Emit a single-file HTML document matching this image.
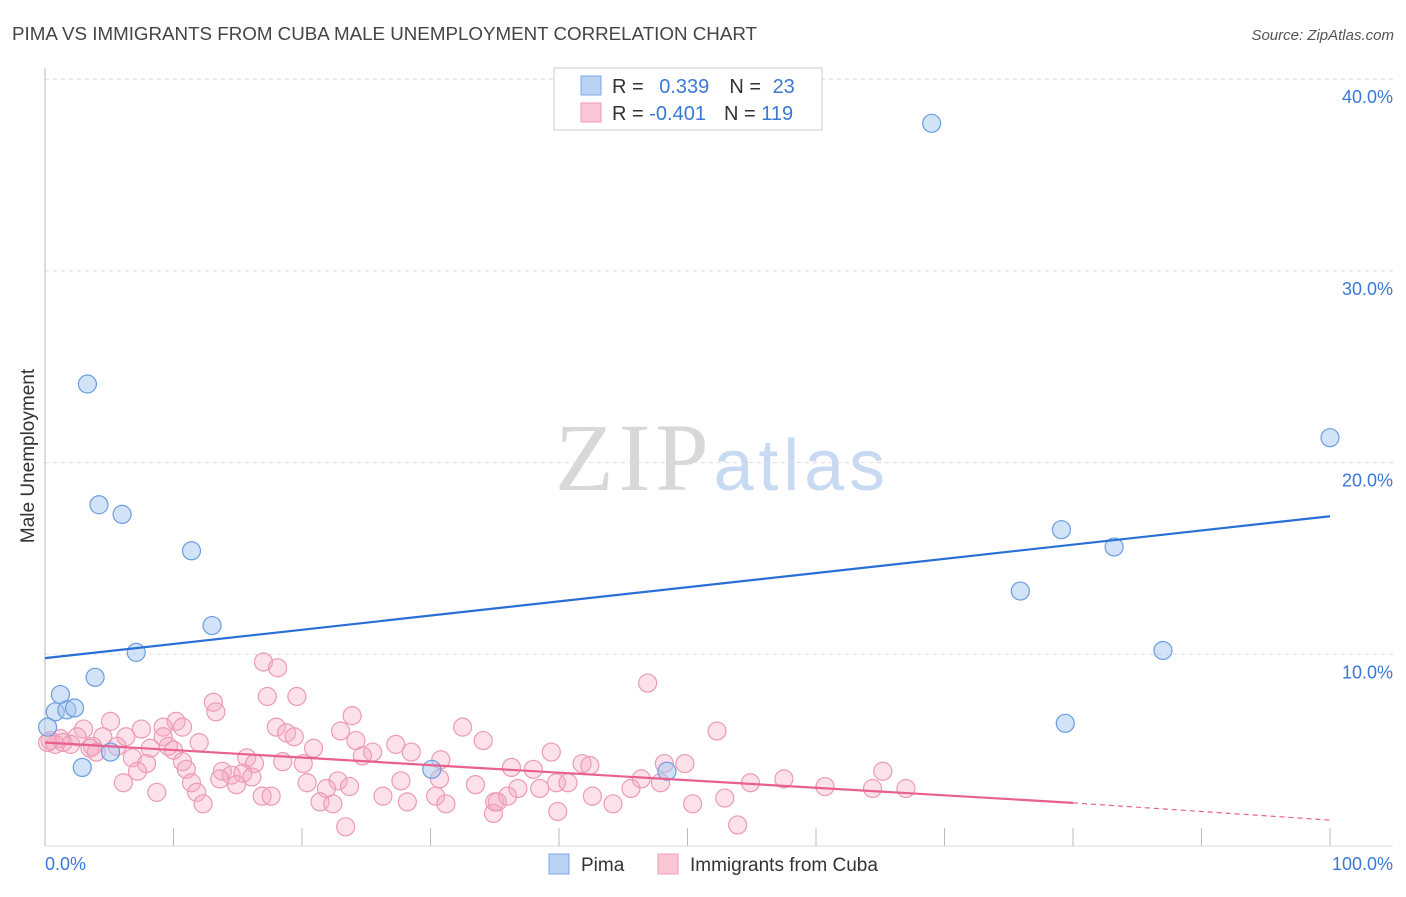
<!DOCTYPE html>
<html><head><meta charset="utf-8"><style>
body{margin:0;background:#fff;font-family:"Liberation Sans",sans-serif}
svg text{font-family:"Liberation Sans",sans-serif}
</style></head><body>
<svg id="chart" width="1406" height="892" xmlns="http://www.w3.org/2000/svg">
<text x="12" y="40" font-size="18" fill="#444" textLength="745" lengthAdjust="spacingAndGlyphs">PIMA VS IMMIGRANTS FROM CUBA MALE UNEMPLOYMENT CORRELATION CHART</text>
<text x="1394" y="40" font-size="15" fill="#555" text-anchor="end" font-style="italic">Source: ZipAtlas.com</text>
<text x="720" y="490" font-size="96" text-anchor="middle" textLength="330"><tspan font-family="Liberation Serif" fill="#d8d8d8">ZIP</tspan><tspan fill="#c8daf2" font-size="72">atlas</tspan></text>
<g id="grid"></g>
<g id="axes"></g>
<text transform="translate(34,456) rotate(-90)" font-size="19" fill="#333" text-anchor="middle">Male Unemployment</text>
<g id="pink"></g>
<g id="blue"></g>
<g id="lines"></g>
<g>
<rect x="554" y="68" width="268" height="62" fill="#fff" stroke="#ccc"/>
<rect x="581" y="76" width="20" height="19" fill="#b9d3f5" stroke="#7ea9e6"/>
<rect x="581" y="103" width="20" height="19" fill="#fbc7d6" stroke="#f09ab5"/>
<text x="612" y="93" font-size="20" fill="#333">R = <tspan fill="#3a78d8" dx="10">0.339</tspan><tspan dx="20">N = </tspan><tspan fill="#3a78d8" dx="6">23</tspan></text>
<text x="612" y="120" font-size="20" fill="#333">R = <tspan fill="#3a78d8">-0.401</tspan><tspan dx="18">N = </tspan><tspan fill="#3a78d8">119</tspan></text>
</g>
<g>
<rect x="549" y="854" width="20" height="20" fill="#b9d3f5" stroke="#7ea9e6"/>
<text x="581" y="871" font-size="19" fill="#333">Pima</text>
<rect x="658" y="854" width="20" height="20" fill="#fbc7d6" stroke="#f09ab5"/>
<text x="690" y="871" font-size="19" fill="#333">Immigrants from Cuba</text>
</g>
</svg>
<script>
const yTicks=[10,20,30,40];
const yTickLabels=["10.0%","20.0%","30.0%","40.0%"];
const xTickLabels=["0.0%","100.0%"];
const pimaX=[69.0,100,79.1,83.2,75.9,87.0,79.4,3.3,4.2,6.0,11.4,13.0,7.1,3.9,1.2,0.8,1.7,2.3,2.9,5.1,0.2,30.1,48.4];
const pimaY=[37.7,21.3,16.5,15.6,13.3,10.2,6.4,24.1,17.8,17.3,15.4,11.5,10.1,8.8,7.9,7.0,7.1,7.2,4.1,4.9,6.2,4.0,3.9];
const cubaX=[17.0,18.1,17.3,19.6,13.1,13.3,23.9,5.1,10.2,9.2,10.7,7.5,3.0,18.0,23.0,32.5,18.8,19.4,4.5,6.3,9.2,12.0,24.2,34.1,2.5,1.2,27.3,28.5,20.9,25.5,24.7,8.2,9.6,10.0,3.7,5.6,15.7,16.3,18.5,20.1,30.8,6.8,7.9,10.7,11.0,7.2,13.8,14.5,15.4,16.1,13.6,11.4,14.9,6.1,20.4,22.8,21.9,23.7,27.7,30.7,33.5,11.8,8.7,16.9,17.6,21.4,22.4,12.3,26.3,28.2,30.4,31.2,35.0,34.9,23.4,0.4,0.8,1.4,2.0,3.5,4.0,0.2,46.9,52.3,39.4,36.3,38.0,41.8,42.4,48.2,49.8,46.4,47.9,39.8,40.7,38.5,36.8,45.6,54.9,57.5,60.7,65.2,64.4,67.0,36.0,35.2,42.6,44.2,39.9,50.4,52.9,53.9];
const cubaY=[9.6,9.3,7.8,7.8,7.5,7.0,6.8,6.5,6.5,6.2,6.2,6.1,6.1,6.2,6.0,6.2,5.9,5.7,5.7,5.7,5.7,5.4,5.5,5.5,5.7,5.6,5.3,4.9,5.1,4.9,4.7,5.1,5.2,5.0,5.2,5.2,4.6,4.3,4.4,4.3,4.5,4.6,4.3,4.4,4.0,3.9,3.9,3.7,3.8,3.6,3.5,3.3,3.2,3.3,3.3,3.4,3.0,3.1,3.4,3.5,3.2,2.8,2.8,2.6,2.6,2.3,2.2,2.2,2.6,2.3,2.6,2.2,2.3,1.7,1.0,5.5,5.3,5.4,5.3,5.1,4.9,5.4,8.5,6.0,4.9,4.1,4.0,4.3,4.2,4.3,4.3,3.5,3.3,3.3,3.3,3.0,3.0,3.0,3.3,3.5,3.1,3.9,3.0,3.0,2.6,2.3,2.6,2.2,1.8,2.2,2.5,1.1];
const pimaTrend=[9.8,17.2];
const cubaTrend=[5.4,2.25,1.35];
const X0=45,X1=1330,Y0=846,YS=19.17;
const sx=v=>X0+(X1-X0)*v/100, sy=v=>Y0-v*YS;
const NS="http://www.w3.org/2000/svg";
function mk(t,a,p){const e=document.createElementNS(NS,t);for(const k in a)e.setAttribute(k,a[k]);p.appendChild(e);return e;}
const grid=document.getElementById('grid'),axes=document.getElementById('axes');
yTicks.forEach((t,i)=>{
 const l=mk('line',{x1:45,x2:1393,y1:sy(t),y2:sy(t),stroke:'#ddd','stroke-dasharray':'4,4'},grid);
 
 
 const tx=mk('text',{x:1393,y:sy(t)+24,'font-size':18,fill:'#3a78d8','text-anchor':'end'},axes);
 tx.textContent=yTickLabels[i];
 
 
});
mk('line',{x1:45,x2:45,y1:68,y2:846,stroke:'#bbb'},axes);
mk('line',{x1:45,x2:1393,y1:846,y2:846,stroke:'#ddd'},axes);
for(let i=0;i<=10;i++){const x=sx(i*10);const t=mk('line',{x1:x,x2:x,y1:828,y2:846,stroke:'#bbb'},axes);
 
 }
const xl0=mk('text',{x:45,y:870,'font-size':18,fill:'#3a78d8'},axes);xl0.textContent=xTickLabels[0];


const xl1=mk('text',{x:1393,y:870,'font-size':18,fill:'#3a78d8','text-anchor':'end'},axes);xl1.textContent=xTickLabels[1];


const pink=document.getElementById('pink'),blue=document.getElementById('blue');
cubaX.forEach((v,i)=>{const c=mk('circle',{cx:sx(v),cy:sy(cubaY[i]),r:9,fill:'rgba(246,170,196,0.35)',stroke:'#ec9ab5','stroke-width':1.2},pink);
 
 });
pimaX.forEach((v,i)=>{const c=mk('circle',{cx:sx(v),cy:sy(pimaY[i]),r:9,fill:'rgba(165,198,240,0.5)',stroke:'#6a9de0','stroke-width':1.2},blue);
 
 });
const lines=document.getElementById('lines');
const bl=mk('line',{x1:sx(0),y1:sy(pimaTrend[0]),x2:sx(100),y2:sy(pimaTrend[1]),stroke:'#2a6fd6','stroke-width':2.2},lines);


const pl=mk('line',{x1:sx(0),y1:sy(cubaTrend[0]),x2:sx(80),y2:sy(cubaTrend[1]),stroke:'#e8608e','stroke-width':2.2},lines);


const pd=mk('line',{x1:sx(80),y1:sy(cubaTrend[1]),x2:sx(100),y2:sy(cubaTrend[2]),stroke:'#e8608e','stroke-width':1.2,'stroke-dasharray':'5,4'},lines);


</script>
</body></html>
